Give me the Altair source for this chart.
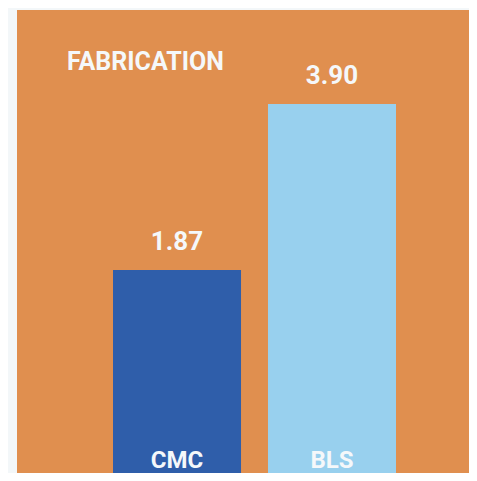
import altair as alt
import pandas as pd

categories = ["CMC", "BLS"]
values = [1.87, 3.90]
value_labels = ["1.87", "3.90"]
bar_colors = ["#2F5EAA", "#98D0EE"]
title_text = "FABRICATION"

y_min, y_max = -0.611, 5.05

df = pd.DataFrame({
    "cat": categories,
    "val": values,
    "label": value_labels,
    "base": [y_min] * len(categories),
})

W, H = 452, 463
x = alt.X("cat:N", sort=categories, axis=None,
          scale=alt.Scale(range=[96, 379], paddingInner=0.174, paddingOuter=0))
y_scale = alt.Scale(domain=[y_min, y_max], nice=False, zero=False)

bars = alt.Chart(df).mark_bar().encode(
    x=x,
    y=alt.Y("val:Q", scale=y_scale, axis=None),
    y2="base:Q",
    color=alt.Color("cat:N", scale=alt.Scale(domain=categories, range=bar_colors), legend=None),
)

font = "Roboto"
txt_col = "#F5F8FA"

val_text = alt.Chart(df).mark_text(
    font=font, fontSize=26, fontWeight="bold", color=txt_col, baseline="alphabetic", dy=-20
).encode(x=x, y=alt.Y("val:Q", scale=y_scale, axis=None), text="label:N")

cat_text = alt.Chart(df).mark_text(
    font=font, fontSize=24, fontWeight="bold", color=txt_col, baseline="alphabetic", dy=-5
).encode(x=x, y=alt.Y("base:Q", scale=y_scale, axis=None), text="cat:N")

title = alt.Chart(pd.DataFrame({"t": [title_text]})).mark_text(
    font=font, fontSize=25, fontWeight="bold", color=txt_col, align="left", baseline="alphabetic"
).encode(x=alt.value(50), y=alt.value(60), text="t:N")

chart = alt.layer(bars, val_text, cat_text, title).properties(
    width=W, height=H,
    background="#F3F7F9",
    padding={"left": 9, "top": 2, "right": 0, "bottom": 0},
).configure_view(fill="#E08F4F", stroke=None)

chart.save("out.html", embed_options={"renderer": "svg", "actions": False})
